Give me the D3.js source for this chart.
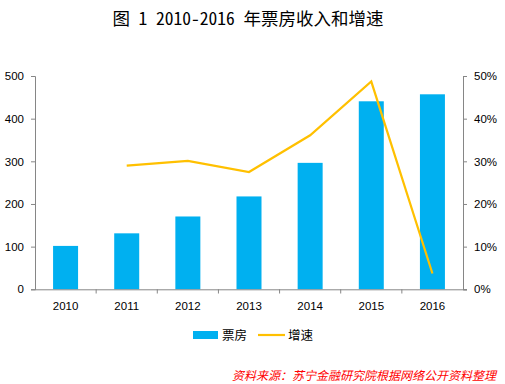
<!DOCTYPE html>
<html><head><meta charset="utf-8">
<script src="https://cdn.jsdelivr.net/npm/d3@7"></script>
<style>body{margin:0;background:#fff}svg{display:block}</style>
</head><body>
<svg id="c" width="505" height="384"></svg>
<script>
const categories = ["2010","2011","2012","2013","2014","2015","2016"];
const boxOffice = [101.7,131.2,170.7,217.7,296.4,440.7,457.1];
const growth = [null,0.29,0.301,0.275,0.361,0.487,0.037];
const leftTicks = [0,100,200,300,400,500];
const rightTicks = [0,0.1,0.2,0.3,0.4,0.5];

const svg = d3.select("#c");
const xc=d3.scaleBand().domain(categories).range([35,463]);
const yL=d3.scaleLinear().domain([0,500]).range([289.3,76]);
const yR=d3.scaleLinear().domain([0,0.5]).range([289.3,76]);
const axisColor="#868686";
const font="Liberation Sans, Arial, sans-serif";

svg.append("text").attr("x",248).attr("y",25).attr("text-anchor","middle")
  .style("font-family","Noto Sans CJK SC").style("font-size","17.5px").style("font-weight","normal")
  .style("font-feature-settings","'hwid'")
  .text("图 1 2010-2016 年票房收入和增速");

// bars
svg.append("g").selectAll("rect").data(categories).join("rect")
  .attr("x",d=>xc(d)+xc.bandwidth()/2-12.5).attr("width",25)
  .attr("y",(d,i)=>yL(boxOffice[i])).attr("height",(d,i)=>yL(0)-yL(boxOffice[i]))
  .attr("fill","#00B0F0");

// line
const lineData=categories.map((c,i)=>({c,v:growth[i]})).filter(d=>d.v!=null);
svg.append("path").datum(lineData)
  .attr("d",d3.line().x(d=>xc(d.c)+xc.bandwidth()/2).y(d=>yR(d.v)))
  .attr("fill","none").attr("stroke","#FFC000").attr("stroke-width",2.2);

// axes
const gL=svg.append("g").attr("transform","translate(35,0)")
  .call(d3.axisLeft(yL).tickValues(leftTicks).tickSize(4).tickPadding(7).tickFormat(d3.format("d")));
const gR=svg.append("g").attr("transform","translate(463,0)")
  .call(d3.axisRight(yR).tickValues(rightTicks).tickSize(4).tickPadding(7).tickFormat(d3.format(".0%")));
const gB=svg.append("g").attr("transform","translate(0,289.3)")
  .call(d3.axisBottom(xc).tickSize(0).tickPadding(13));
svg.append("g").selectAll("line").data(d3.range(1,categories.length)).join("line")
  .attr("x1",i=>35+i*xc.step()).attr("x2",i=>35+i*xc.step())
  .attr("y1",289.3).attr("y2",293.5).attr("stroke",axisColor);
[gL,gR,gB].forEach(g=>{
  g.selectAll("path,line").attr("stroke",axisColor);
  g.selectAll("text").style("font-family",font).style("font-size","11.5px").attr("fill","#000");
});
gB.select(".domain").attr("d","M35,0.5H467");

// legend
const lg=svg.append("g");
lg.append("rect").attr("x",193).attr("y",331).attr("width",25).attr("height",8).attr("fill","#00B0F0");
lg.append("text").attr("x",222).attr("y",340).text("票房");
lg.append("line").attr("x1",258).attr("x2",285).attr("y1",335).attr("y2",335).attr("stroke","#FFC000").attr("stroke-width",2.2);
lg.append("text").attr("x",288).attr("y",340).text("增速");
lg.selectAll("text").style("font-family","Noto Sans CJK SC").style("font-size","12.5px");

svg.append("text").attr("x",496).attr("y",380).attr("text-anchor","end")
  .style("font-family","Noto Sans CJK SC").style("font-size","12px").style("font-style","italic")
  .attr("fill","#FF0000").text("资料来源：苏宁金融研究院根据网络公开资料整理");
</script>
</body></html>
